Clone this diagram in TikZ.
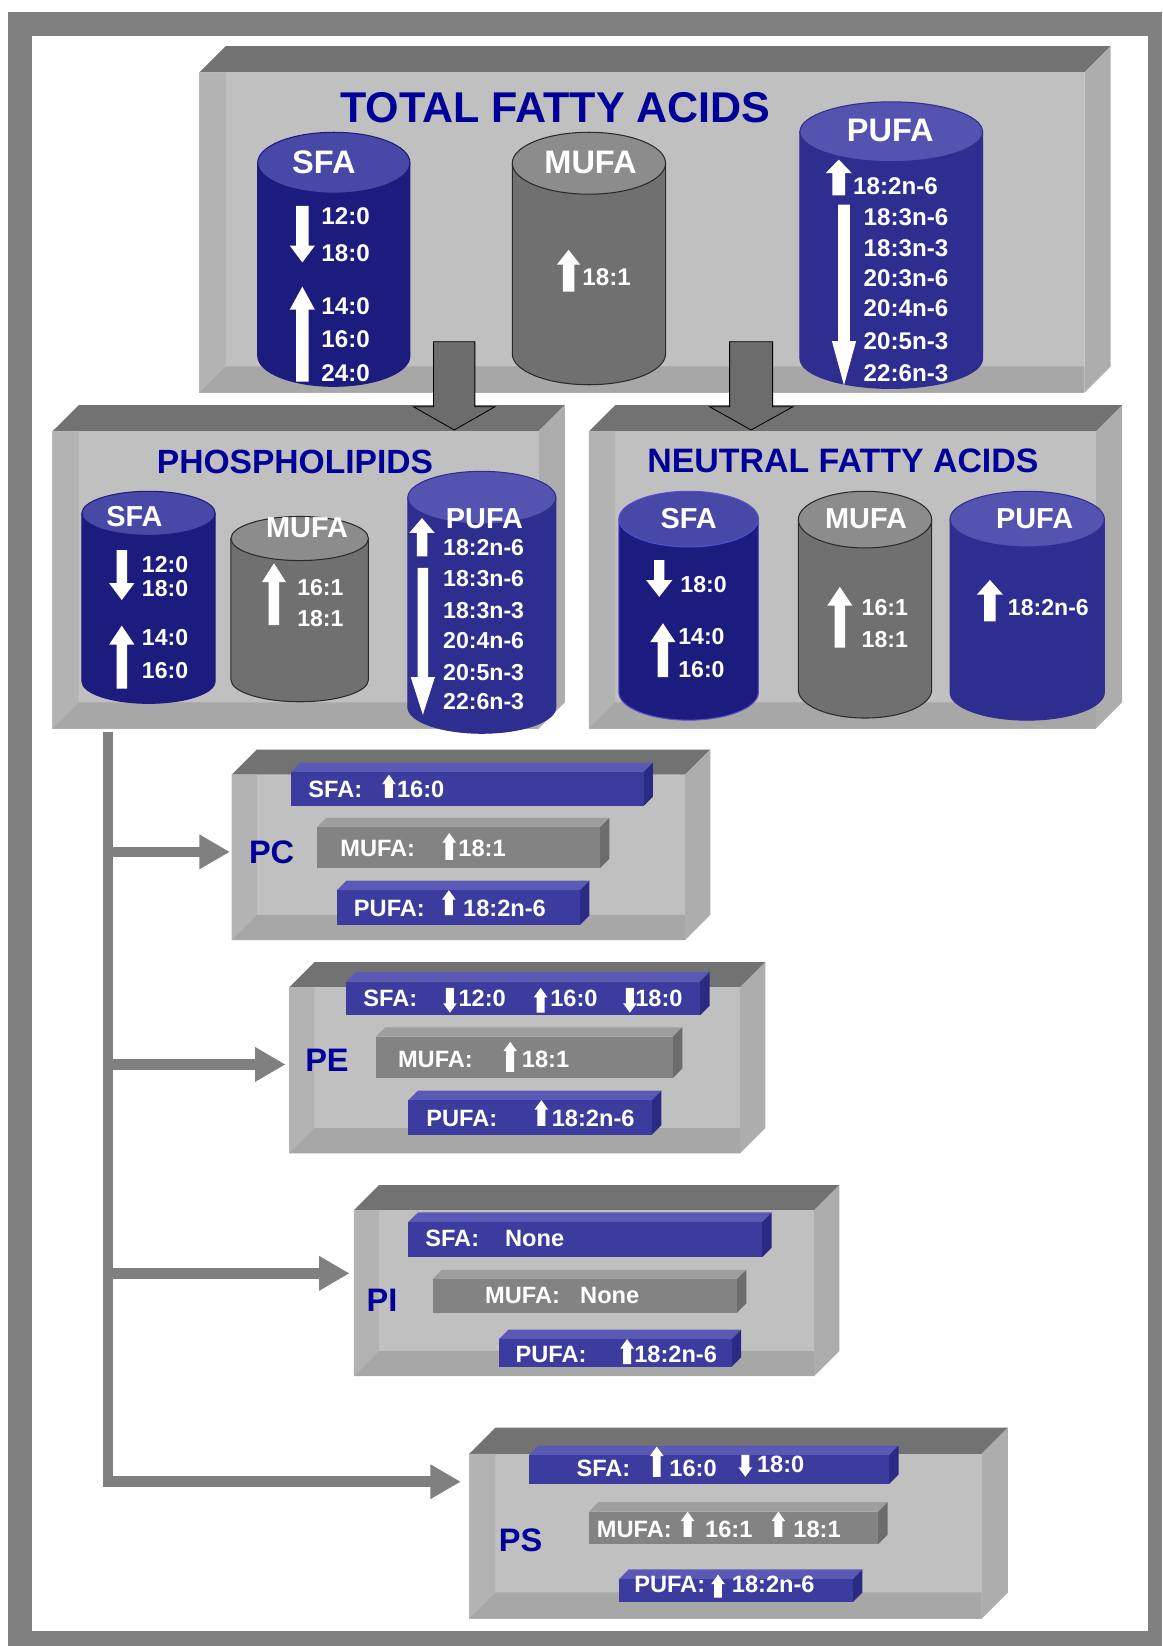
\documentclass[tikz,border=0pt]{standalone}
\usepackage{fontspec}
\setmainfont{Liberation Sans}
\usetikzlibrary{arrows.meta}
\definecolor{frameg}{HTML}{808080}
\definecolor{topg}{HTML}{727272}
\definecolor{backg}{HTML}{C0C0C0}
\definecolor{wallg}{HTML}{B3B3B3}
\definecolor{floorg}{HTML}{A7A7A7}
\definecolor{sideg}{HTML}{ADADAD}
\definecolor{titleblue}{HTML}{000099}
\definecolor{sfabody}{HTML}{1C1C7E}
\definecolor{sfatop}{HTML}{4848A6}
\definecolor{pufabody}{HTML}{2E2E90}
\definecolor{pufatop}{HTML}{5454B0}
\definecolor{mufabody}{HTML}{707070}
\definecolor{mufatop}{HTML}{8C8C8C}
\definecolor{mufaline}{HTML}{2A2A2A}
\definecolor{nsfaline}{HTML}{5050D0}
\definecolor{barblue}{HTML}{3C3C9E}
\definecolor{barbluetop}{HTML}{5A5AB6}
\definecolor{barblueside}{HTML}{2A2A84}
\definecolor{bargray}{HTML}{838383}
\definecolor{bargraytop}{HTML}{9E9E9E}
\definecolor{bargrayside}{HTML}{6C6C6C}
\definecolor{bigarrow}{HTML}{6C6C6C}
% tray: x1 y1 x2 y2 depth
\newcommand\trayA[5]{%
 \fill[topg] (#1,#2) -- ({#1+#5},{#2-#5}) -- ({#3+#5},{#2-#5}) -- (#3,#2) -- cycle;
 \fill[sideg] (#3,#2) -- ({#3+#5},{#2-#5}) -- ({#3+#5},{#4-#5}) -- (#3,#4) -- cycle;
 \fill[backg] (#1,#2) rectangle (#3,#4);
 \fill[wallg] (#1,#2) -- ({#1+#5},#2) -- ({#1+#5},{#4-#5}) -- (#1,#4) -- cycle;
 \fill[floorg] (#1,#4) -- ({#1+#5},{#4-#5}) -- (#3,{#4-#5}) -- (#3,#4) -- cycle;}
% slab: x1 y1 x2 y2 depth front top side
\newcommand\slabA[8]{%
 \fill[#7] (#1,#2) -- ({#1+#5},{#2-#5}) -- ({#3+#5},{#2-#5}) -- (#3,#2) -- cycle;
 \fill[#8] (#3,#2) -- ({#3+#5},{#2-#5}) -- ({#3+#5},{#4-#5}) -- (#3,#4) -- cycle;
 \fill[#6] (#1,#2) rectangle (#3,#4);}
% cylinder: cx rx ytop ybot ry body top line
\newcommand\cylA[8]{%
 \filldraw[fill=#6, draw=#8, line width=1pt] ({#1-#2},#3) -- ({#1-#2},#4)
   arc[start angle=180, end angle=360, x radius=#2pt, y radius=#5pt] -- ({#1+#2},#3) -- cycle;
 \filldraw[fill=#7, draw=#8, line width=1pt] (#1,#3) ellipse [x radius=#2pt, y radius=#5pt];}
% white block arrows: x ytop ybot headwidth headlength shaftwidth
\newcommand\upA[6]{\fill[white] ({#1-#6/2},#3) -- ({#1-#6/2},{#2+#5}) -- ({#1-#4/2},{#2+#5}) -- (#1,#2)
 -- ({#1+#4/2},{#2+#5}) -- ({#1+#6/2},{#2+#5}) -- ({#1+#6/2},#3) -- cycle;}
\newcommand\dnA[6]{\fill[white] ({#1-#6/2},#2) -- ({#1-#6/2},{#3-#5}) -- ({#1-#4/2},{#3-#5}) -- (#1,#3)
 -- ({#1+#4/2},{#3-#5}) -- ({#1+#6/2},{#3-#5}) -- ({#1+#6/2},#2) -- cycle;}
\tikzset{
 conn/.style={draw=frameg, line width=10pt},
 tipA/.style={-{Triangle[length=29pt,width=31pt]}},
 ttl/.style={text=titleblue, inner sep=0pt, anchor=base},
 boxlbl/.style={text=titleblue, inner sep=0pt, anchor=base west, font=\fontsize{31}{36}\selectfont\bfseries},
 numA/.style={text=white, inner sep=0pt, anchor=base west, font=\fontsize{23}{27}\selectfont\bfseries},
 numB/.style={text=white, inner sep=0pt, anchor=base west, font=\fontsize{22}{26}\selectfont\bfseries},
 lblA/.style={text=white, inner sep=0pt, anchor=base, font=\fontsize{31}{36}\selectfont\bfseries},
 lblB/.style={text=white, inner sep=0pt, anchor=base, font=\fontsize{27.5}{32}\selectfont\bfseries},
 bartxt/.style={text=white, inner sep=0pt, anchor=base west, font=\fontsize{22.5}{27}\selectfont\bfseries},
 bigarr/.style={fill=bigarrow, draw=black, line width=0.8pt},
}
\begin{document}
\begin{tikzpicture}[x=1pt,y=-1pt]
\useasboundingbox (0,0) rectangle (1107,1568);
\fill[white] (0,0) rectangle (1107,1568);
% frame
\fill[frameg] (7.6,11.4) rectangle (1107,1568);
\fill[white] (30.5,34.3) rectangle (1093.6,1553.8);

% main trays
\trayA{190}{69}{1033}{374}{25}
\trayA{50}{411}{513}{694}{25}
\trayA{561}{411}{1044}{694}{25}

% titles
\node[ttl, font=\fontsize{41}{46}\selectfont\bfseries] (tfa) at (529,116.5) {TOTAL FATTY ACIDS};
\node[ttl, font=\fontsize{32}{37}\selectfont\bfseries] (pl) at (281,451) {PHOSPHOLIPIDS};
\node[ttl, font=\fontsize{32.3}{37}\selectfont\bfseries] (nfa) at (803,450.5) {NEUTRAL FATTY ACIDS};

% ---- TOTAL cylinders
\cylA{318}{72.5}{155}{339}{29}{sfabody}{sfatop}{sfabody}
\cylA{561}{73}{155.5}{337}{29.5}{mufabody}{mufatop}{mufaline}
\cylA{849}{87}{125.5}{341.5}{28.5}{pufabody}{pufatop}{pufabody}
\node[lblA] (t-sfa) at (308.5,165) {SFA};
\node[lblA] (t-mufa) at (562.5,165) {MUFA};
\node[lblA] (t-pufa) at (848,135) {PUFA};
\node[numA] (t-s1) at (306,214) {12:0};
\node[numA] (t-s2) at (306,249.4) {18:0};
\node[numA] (t-s3) at (306,300) {14:0};
\node[numA] (t-s4) at (306,331.5) {16:0};
\node[numA] (t-s5) at (306,363.6) {24:0};
\node[numA] (t-m1) at (554.6,271.5) {18:1};
\node[numA] (t-p1) at (812.6,185.7) {18:2n-6};
\node[numA] (t-p2) at (822.6,215) {18:3n-6};
\node[numA] (t-p3) at (822.6,243.9) {18:3n-3};
\node[numA] (t-p4) at (822.6,273) {20:3n-6};
\node[numA] (t-p5) at (822.6,301.7) {20:4n-6};
\node[numA] (t-p6) at (822.6,333.4) {20:5n-3};
\node[numA] (t-p7) at (822.6,363.6) {22:6n-3};
\dnA{288}{196}{250}{24}{16}{12}
\upA{288}{273}{363.6}{24}{22}{12}
\upA{541.6}{238}{277.8}{22}{14}{11}
\upA{799}{152}{186}{25}{13}{12}
\dnA{804}{195}{367}{23}{42}{11}

% ---- PHOSPHOLIPID cylinders
\cylA{141.5}{63.5}{489}{649}{21}{sfabody}{sfatop}{sfabody}
\cylA{285.5}{65.5}{513}{647.5}{21}{mufabody}{mufatop}{mufaline}
\cylA{459}{70.5}{474}{673.5}{25}{pufabody}{pufatop}{pufabody}
\node[lblB] (p-sfa) at (128,502) {SFA};
\node[lblB] (p-mufa) at (292.5,512.5) {MUFA};
\node[lblB] (p-pufa) at (461.5,503) {PUFA};
\node[numB] (p-s1) at (135,545) {12:0};
\node[numB] (p-s2) at (135,568.7) {18:0};
\node[numB] (p-s3) at (135,614.5) {14:0};
\node[numB] (p-s4) at (135,646) {16:0};
\node[numB] (p-m1) at (283,567) {16:1};
\node[numB] (p-m2) at (283,597) {18:1};
\node[numB] (p-p1) at (422,529) {18:2n-6};
\node[numB] (p-p2) at (422,559) {18:3n-6};
\node[numB] (p-p3) at (422,589) {18:3n-3};
\node[numB] (p-p4) at (422,617.5) {20:4n-6};
\node[numB] (p-p5) at (422,648) {20:5n-3};
\node[numB] (p-p6) at (422,676) {22:6n-3};
\dnA{116}{524}{571.6}{24}{16}{10}
\upA{116}{596}{656}{24}{18}{10}
\upA{261}{536.6}{595.5}{23}{18}{10}
\upA{402}{493.5}{530}{24}{14}{10}
\dnA{402.8}{541}{681}{23}{36}{10}

% ---- NEUTRAL cylinders
\cylA{656}{66.5}{494.5}{659.5}{26.5}{sfabody}{sfatop}{nsfaline}
\cylA{824}{63.5}{495}{657}{27}{mufabody}{mufatop}{mufaline}
\cylA{978.5}{73.5}{494.5}{659.5}{26.5}{pufabody}{pufatop}{pufabody}
\node[lblB] (n-sfa) at (656,503) {SFA};
\node[lblB] (n-mufa) at (825,503) {MUFA};
\node[lblB] (n-pufa) at (985.6,503) {PUFA};
\node[numB] (n-s1) at (648,564) {18:0};
\node[numB] (n-s2) at (646,614) {14:0};
\node[numB] (n-s3) at (646,645) {16:0};
\node[numB] (n-m1) at (820.7,586) {16:1};
\node[numB] (n-m2) at (820.7,617) {18:1};
\node[numB] (n-p1) at (960,586) {18:2n-6};
\dnA{628}{533.5}{568.6}{25}{16}{10}
\upA{631.5}{593.6}{645}{24}{18}{10}
\upA{800}{559}{617}{24}{18}{10}
\upA{943}{552.5}{592}{25}{14}{11}

% ---- big grey arrows between levels
\coordinate (a1) at (432.7,325.5);
\coordinate (a2) at (715.5,325.5);
\filldraw[bigarr] ([xshift=-19.7pt]a1) -- ++(0,61.9) -- ++(-19.3,0) -- (432.7,409.6) -- (471.6,387.4) -- ++(-19.2,0) -- ([xshift=19.7pt]a1) -- cycle;
\filldraw[bigarr] ([xshift=-20.5pt]a2) -- ++(0,61.9) -- ++(-19.2,0) -- (715.5,409.6) -- (755.5,387.4) -- ++(-19.5,0) -- ([xshift=20.5pt]a2) -- cycle;

% ---- lower trays
\trayA{220.7}{738}{652.6}{895.5}{24}
\trayA{275.5}{940.5}{705}{1098.6}{24}
\trayA{337}{1153}{775.5}{1311}{24}
\trayA{447}{1385}{935}{1542}{25}

% connectors
\coordinate (trunk) at (103,697);
\coordinate (inPC) at (219,811.5);
\coordinate (inPE) at (272,1014);
\coordinate (inPI) at (333,1213);
\coordinate (inPS) at (439,1411.5);
\draw[conn, tipA] (trunk) |- (inPS);
\draw[conn, tipA] (98,811.5) -- (inPC);
\draw[conn, tipA] (98,1014) -- (inPE);
\draw[conn, tipA] (98,1213) -- (inPI);

% ---- PC
\slabA{277}{735.5}{613}{768}{9}{barblue}{barbluetop}{barblueside}
\slabA{302}{788}{571.6}{827}{9}{bargray}{bargraytop}{bargrayside}
\slabA{321}{848}{552.5}{881}{9}{barblue}{barbluetop}{barblueside}
\node[boxlbl] (pc) at (237,822.5) {PC};
\node[bartxt] (pc-s) at (293.6,759.6) {SFA:};
\node[bartxt] (pc-s1) at (378,759.6) {16:0};
\node[bartxt] (pc-m) at (324,816) {MUFA:};
\node[bartxt] (pc-m1) at (436.5,816) {18:1};
\node[bartxt] (pc-p) at (337,873) {PUFA:};
\node[bartxt] (pc-p1) at (441,873) {18:2n-6};
\upA{370.5}{738}{760}{13}{9}{7.5}
\upA{428}{793.6}{819}{13}{9}{7.5}
\upA{427.6}{848}{871.7}{13}{9}{7.5}

% ---- PE
\slabA{330}{935}{667}{967}{9}{barblue}{barbluetop}{barblueside}
\slabA{358}{987.6}{641}{1027}{9}{bargray}{bargraytop}{bargrayside}
\slabA{389}{1048}{621}{1081}{9}{barblue}{barbluetop}{barblueside}
\node[boxlbl] (pe) at (290.6,1021) {PE};
\node[bartxt] (pe-s) at (346,959) {SFA:};
\node[bartxt] (pe-s1) at (436.6,959) {12:0};
\node[bartxt] (pe-s2) at (524,959) {16:0};
\node[bartxt] (pe-s3) at (605,959) {18:0};
\node[bartxt] (pe-m) at (379,1016.5) {MUFA:};
\node[bartxt] (pe-m1) at (497,1016.5) {18:1};
\node[bartxt] (pe-p) at (406,1073) {PUFA:};
\node[bartxt] (pe-p1) at (525.5,1073) {18:2n-6};
\dnA{428.6}{941}{964.7}{13}{9}{7.5}
\upA{515}{941}{964.7}{13}{9}{7.5}
\dnA{600}{941}{964.7}{13}{9}{7.5}
\upA{486}{992.4}{1021}{13}{9}{7.5}
\upA{515.7}{1048}{1072.6}{13}{9}{7.5}

% ---- PI
\slabA{389}{1164}{726}{1197.6}{9}{barblue}{barbluetop}{barblueside}
\slabA{412}{1218.6}{702}{1250.5}{9}{bargray}{bargraytop}{bargrayside}
\slabA{475.5}{1275.6}{697}{1302}{9}{barblue}{barbluetop}{barblueside}
\node[boxlbl] (pi) at (349,1249.6) {PI};
\node[bartxt] (pi-s) at (405,1187.6) {SFA:};
\node[bartxt] (pi-s1) at (481,1187.6) {None};
\node[bartxt] (pi-m) at (462,1242) {MUFA:};
\node[bartxt] (pi-m1) at (552.5,1242) {None};
\node[bartxt] (pi-p) at (491,1298) {PUFA:};
\node[bartxt] (pi-p1) at (604,1298) {18:2n-6};
\upA{597.4}{1275.6}{1299.5}{13}{9}{7.5}

% ---- PS
\slabA{504}{1386}{847}{1413.7}{9}{barblue}{barbluetop}{barblueside}
\slabA{561}{1440}{836.5}{1471}{9}{bargray}{bargraytop}{bargrayside}
\slabA{590}{1504}{812.6}{1526}{9}{barblue}{barbluetop}{barblueside}
\node[boxlbl] (ps) at (475,1478) {PS};
\node[bartxt] (ps-s) at (549,1406.8) {SFA:};
\node[bartxt] (ps-s1) at (637.5,1406.8) {16:0};
\node[bartxt] (ps-s2) at (721,1403) {18:0};
\node[bartxt] (ps-m) at (568.4,1464.6) {MUFA:};
\node[bartxt] (ps-m1) at (671.6,1464.6) {16:1};
\node[bartxt] (ps-m2) at (755.6,1464.6) {18:1};
\node[bartxt] (ps-p) at (604,1517.3) {PUFA:};
\node[bartxt] (ps-p1) at (697,1517.3) {18:2n-6};
\upA{625.6}{1378}{1406.8}{13}{9}{7.5}
\dnA{710}{1386}{1406.8}{13}{9}{7.5}
\upA{655}{1440}{1464}{13}{9}{7.5}
\upA{741.5}{1440}{1464}{13}{9}{7.5}
\upA{684}{1500}{1522}{13}{9}{7.5}
\end{tikzpicture}
\end{document}
